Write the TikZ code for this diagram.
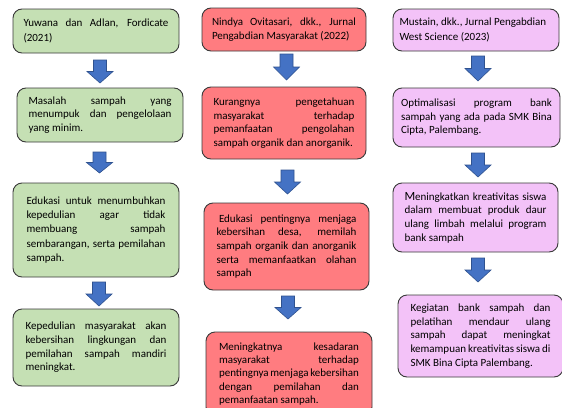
\documentclass[tikz,border=0pt]{standalone}
\usepackage{fontspec}
\setmainfont{Carlito}
\setlength\parindent{0pt}
\definecolor{boxline}{HTML}{3A3A3A}
\definecolor{gfill}{HTML}{C5E0B4}
\definecolor{rfill}{HTML}{FF7C80}
\definecolor{pfill}{HTML}{F3C2F8}
\definecolor{afill}{HTML}{4472C4}
\definecolor{aline}{HTML}{2F528F}
\newcommand\mytw{100pt}
\newcommand\jl[1]{{\spaceskip=0pt\xspaceskip=0pt\makebox[\mytw][s]{#1}}\\}
\newcommand\lastln[1]{{\spaceskip=0pt\xspaceskip=0pt\mbox{#1}}}
\newcommand\blockdown[3]{%
  \draw[blockarr] ({#1-6.5},#2) -- ({#1+6.5},#2) -- ({#1+6.5},{(#2+#3)/2}) -- ({#1+13},{(#2+#3)/2})
    -- (#1,#3) -- ({#1-13},{(#2+#3)/2}) -- ({#1-6.5},{(#2+#3)/2}) -- cycle;}
\begin{document}
\begin{tikzpicture}[x=1pt,y=-1pt,
  box/.style={draw=boxline, line width=0.9pt, rounded corners=9pt, inner sep=0pt,
    align=left, font=\fontsize{11}{13.6}\selectfont, text=black},
  tw/.style={text width=#1, execute at begin node={\renewcommand\mytw{#1}}},
  ls/.style={font=\fontsize{11}{#1}\selectfont},
  gbox/.style={box, fill=gfill},
  rbox/.style={box, fill=rfill},
  pbox/.style={box, fill=pfill},
  blockarr/.style={fill=afill, draw=aline, line width=0.6pt}]
\useasboundingbox (0,0) rectangle (562,407);
\fill[white] (0,0) rectangle (562,407);
% column 1
\node[gbox, ls=15.5pt, minimum width=166pt, minimum height=44pt, tw=145pt] (g1) at (96,31)
  {\jl{Yuwana dan Adlan, Fordicate}\lastln{(2021)}};
\node[gbox, minimum width=166pt, minimum height=54pt, tw=143pt] (g2) at (100,115)
  {\jl{Masalah sampah yang}\jl{menumpuk dan pengelolaan}\lastln{yang minim.}};
\node[gbox, ls=14.4pt, minimum width=166pt, minimum height=94pt, tw=139pt] (g3) at (96,230)
  {\jl{Edukasi untuk menumbuhkan}\jl{kepedulian agar tidak}\jl{membuang sampah}\jl{sembarangan, serta pemilahan}\lastln{sampah.}};
\node[gbox, minimum width=166pt, minimum height=77pt, tw=141pt] (g4) at (96,347.5)
  {\jl{Kepedulian masyarakat akan}\jl{kebersihan lingkungan dan}\jl{pemilahan sampah mandiri}\lastln{meningkat.}};
% column 2
\node[rbox, ls=14.5pt, minimum width=164pt, minimum height=43pt, tw=144pt] (r1) at (284,29.5)
  {\jl{Nindya Ovitasari, dkk., Jurnal}\lastln{Pengabdian Masyarakat (2022)}};
\node[rbox, minimum width=164pt, minimum height=72pt, tw=141pt] (r2) at (284,123)
  {\jl{Kurangnya pengetahuan}\jl{masyarakat terhadap}\jl{pemanfaatan pengolahan}\lastln{sampah organik dan anorganik.}};
\node[rbox, minimum width=165pt, minimum height=87pt, tw=140pt] (r3) at (286.5,246.5)
  {\jl{\hspace{2.5pt}Edukasi pentingnya menjaga}\jl{kebersihan desa, memilah}\jl{sampah organik dan anorganik}\jl{serta memanfaatkan olahan}\lastln{sampah}};
\node[rbox, ls=13.4pt, minimum width=166pt, minimum height=84pt, tw=140pt] (r4) at (289,374)
  {\jl{Meningkatnya kesadaran}\jl{masyarakat terhadap}\jl{pentingnya menjaga kebersihan}\jl{dengan pemilahan dan}\lastln{pemanfaatan sampah.}};
% column 3
\node[pbox, ls=15.5pt, minimum width=166pt, minimum height=42pt, tw=153pt] (p1) at (476,30)
  {\lastln{Mustain, dkk., Jurnal Pengabdian}\\\lastln{West Science (2023)}};
\node[pbox, minimum width=167pt, minimum height=59pt, tw=151pt] (p2) at (476.5,117.5)
  {\jl{Optimalisasi program bank}\jl{sampah yang ada pada SMK Bina}\lastln{Cipta, Palembang.}};
\node[pbox, minimum width=165pt, minimum height=69pt, tw=142pt] (p3) at (475.5,217.5)
  {\jl{{\fontsize{12.5}{13.6}\selectfont M}eningkatkan kreativitas siswa}\jl{dalam membuat produk daur}\jl{ulang limbah melalui program}\lastln{bank sampah}};
\node[pbox, minimum width=165pt, minimum height=82pt, tw=140pt] (p4) at (480.5,336)
  {\jl{Kegiatan bank sampah dan}\jl{pelatihan mendaur ulang}\jl{sampah dapat meningkat}\jl{kemampuan kreativitas siswa di}\lastln{SMK Bina Cipta Palembang.}};
% block arrows
\blockdown{100}{60}{83}
\blockdown{99.5}{152}{173}
\blockdown{99}{282}{306}
\blockdown{286.5}{54}{80}
\blockdown{287.5}{170}{194}
\blockdown{288}{296}{319}
\blockdown{478}{56}{81}
\blockdown{478}{153}{177}
\blockdown{478}{258}{282}
\end{tikzpicture}
\end{document}
